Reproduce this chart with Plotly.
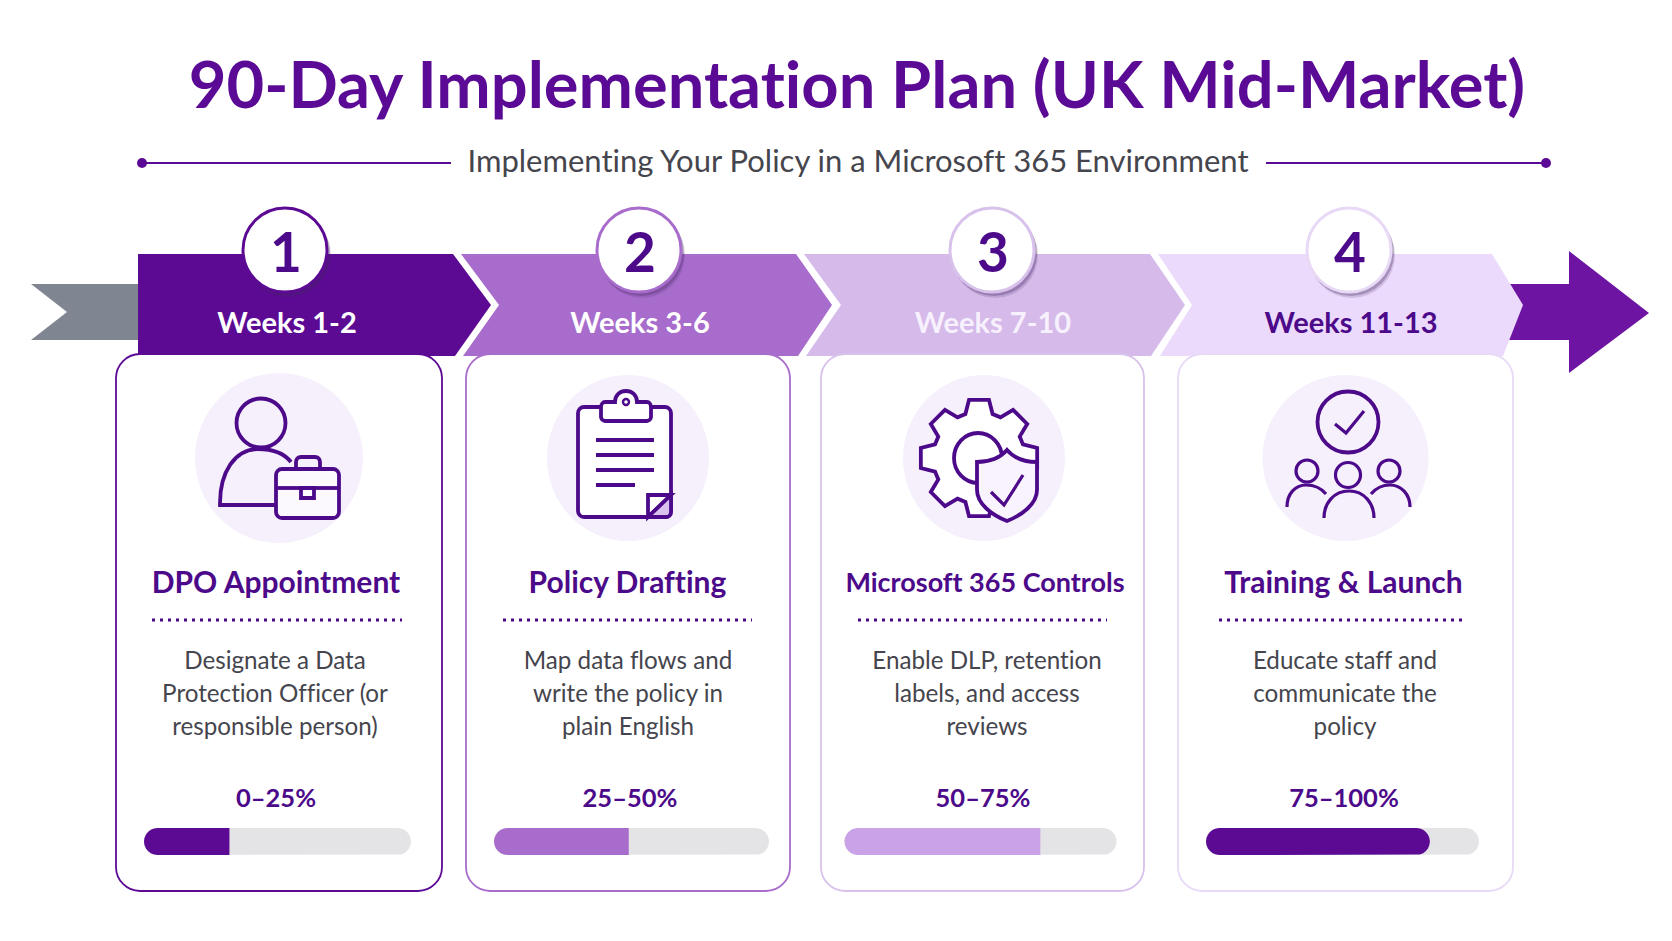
import math
import plotly.graph_objects as go

# ---------- content ----------
TITLE = "90-Day Implementation Plan (UK Mid-Market)"
SUBTITLE = "Implementing Your Policy in a Microsoft 365 Environment"
step_numbers = ["1", "2", "3", "4"]
week_labels = ["Weeks 1-2", "Weeks 3-6", "Weeks 7-10", "Weeks 11-13"]
card_titles = ["DPO Appointment", "Policy Drafting", "Microsoft 365 Controls", "Training & Launch"]
card_text = [
    ["Designate a Data", "Protection Officer (or", "responsible person)"],
    ["Map data flows and", "write the policy in", "plain English"],
    ["Enable DLP, retention", "labels, and access", "reviews"],
    ["Educate staff and", "communicate the", "policy"],
]
range_labels = ["0\u201325%", "25\u201350%", "50\u201375%", "75\u2013100%"]
# share of each progress track that is filled, as drawn
progress_filled = [32, 49, 72, 82]

# ---------- style ----------
FONT = "Lato"
DARK = "#5A0A94"
INK = "#4C0A8A"
GREY_TXT = "#45454D"
chev_col = ["#5C0A94", "#A86DCC", "#D5BAEA", "#EBDAFB"]
border_col = ["#5C0A94", "#A86DCC", "#D8C2EC", "#E8D9F6"]
fill_col = ["#5C0A94", "#A86DCC", "#C9A2E8", "#5C0A94"]
week_col = ["#FFFFFF", "#FFFFFF", "#F7F0FD", INK]
title_size = [30, 30, 27, 30]
DISC = "#F6EFFC"
SW = 3.8

# ---------- geometry ----------
chevrons = [
    [(138, 254), (453, 254), (491, 305), (455, 356), (138, 356)],
    [(461, 254), (796, 254), (832, 305), (798, 356), (463, 356), (499, 305)],
    [(804, 254), (1150, 254), (1185, 305), (1151, 356), (806, 356), (841, 305)],
    [(1158, 254), (1492, 254), (1523, 305), (1503, 356), (1160, 356), (1192, 305)],
]
circle_x = [285, 639, 992, 1349]
week_x = [287, 640, 993, 1351]
cards = [(116, 442), (466, 790), (821, 1144), (1178, 1513)]
discs = [(279, 84, 85), (628, 81, 83), (984, 81, 83), (1345.5, 83, 83)]
title_x = [276, 627.5, 985, 1343.5]
dots = [(152, 402), (503, 752), (858, 1107), (1219, 1467)]
text_x = [275, 628, 987, 1345]
range_x = [276, 630, 983, 1344]
tracks = [(144, 411), (494, 769), (844.5, 1116.5), (1206, 1479)]

shapes = []


def path(d, fill="rgba(0,0,0,0)", line=INK, width=SW):
    shapes.append(dict(type="path", path=d, xref="x", yref="y", layer="below",
                       fillcolor=fill, line=dict(color=line or "rgba(0,0,0,0)", width=width)))


def poly(pts, fill, line=None, width=0):
    d = "M" + " L".join(f"{x},{y}" for x, y in pts) + " Z"
    path(d, fill=fill, line=line, width=width)


def ell(cx, cy, rx, ry, fill="rgba(0,0,0,0)", line=None, width=0):
    shapes.append(dict(type="circle", xref="x", yref="y", layer="below",
                       x0=cx - rx, x1=cx + rx, y0=cy - ry, y1=cy + ry, fillcolor=fill,
                       line=dict(color=line or "rgba(0,0,0,0)", width=width)))


def seg(x0, y0, x1, y1, col=INK, width=SW, dash=None):
    shapes.append(dict(type="line", xref="x", yref="y", layer="below", x0=x0, x1=x1, y0=y0, y1=y1,
                       line=dict(color=col, width=width, dash=dash or "solid")))


def rr(x0, y0, x1, y1, r):
    k = r * 0.45
    return (f"M{x0+r},{y0} L{x1-r},{y0} C{x1-k},{y0} {x1},{y0+k} {x1},{y0+r} "
            f"L{x1},{y1-r} C{x1},{y1-k} {x1-k},{y1} {x1-r},{y1} "
            f"L{x0+r},{y1} C{x0+k},{y1} {x0},{y1-k} {x0},{y1-r} "
            f"L{x0},{y0+r} C{x0},{y0+k} {x0+k},{y0} {x0+r},{y0} Z")


# header rules
for a, b, dot in ((138, 451, 142), (1266, 1546, 1546)):
    seg(a, 163, b, 163, DARK, 2.2)
    ell(dot, 163, 5, 5, DARK)

# ribbon ends
poly([(31, 284), (139, 284), (139, 340), (31, 340), (67, 312)], "#7F8591")
poly([(1500, 284), (1569, 284), (1569, 251), (1649, 313), (1569, 373), (1569, 340), (1500, 340)], "#6E14A2")

# chevrons
for pts, c in zip(chevrons, chev_col):
    poly(pts, c)

# cards, discs, dotted separators
for i, ((x0, x1), c) in enumerate(zip(cards, border_col)):
    path(rr(x0, 354, x1, 891, 24), fill="#FFFFFF", line=c, width=1.8)
    cx, rx, ry = discs[i]
    ell(cx, 458, rx, ry, DISC)
    seg(dots[i][0], 620, dots[i][1], 620, INK, 3, "3px,5px")

# number circles
for x, c in zip(circle_x, border_col):
    ell(x + 3, 255, 43, 43, "rgba(70,40,100,0.16)")
    ell(x + 2, 253, 43, 43, "rgba(70,40,100,0.30)")
    ell(x, 250, 42, 42, "#FFFFFF", c, 3)

# icon 1: person and briefcase
ell(261, 423, 24.5, 24.5, "rgba(0,0,0,0)", INK, SW)
path("M291,462 C283,452 272,449 258,449 C235,449 220,472 220,503 L220,505 L275,505")
path(rr(276, 469, 339, 518, 6), fill="#FBF8FE")
path("M296,469 L296,462 C296,459 298,457 301,457 L315,457 C318,457 320,459 320,462 L320,469")
seg(276, 488, 301, 488)
seg(314, 488, 339, 488)
path("M301,488 L314,488 L314,498 L301,498 Z")

# icon 2: clipboard
path(rr(578, 407, 671, 517, 6), fill="#FFFFFF")
path("M601,407 L601,417 C601,419 603,421 605,421 L647,421 C649,421 651,419 651,417 L651,407 "
     "C651,404 649,402 647,402 L637,402 C637,395 632,391 626,391 C620,391 615,395 615,402 "
     "L605,402 C603,402 601,404 601,407 Z", fill="#FFFFFF")
ell(626, 402, 3, 3, "#FFFFFF", INK, 2.4)
for y, x1 in ((440, 654), (455, 654), (470, 654), (485, 635)):
    seg(596, y, x1, y)
path("M671,495 L648,495 L648,517 Z", fill="#FFFFFF")
path("M671,495 L671,512 C671,515 669,517 666,517 L648,517 Z", fill="#D9C3EE")

# icon 3: gear and shield
gear = []
teeth = 8
for k in range(teeth):
    a = 2 * math.pi * k / teeth - math.pi / 2
    for da, r in ((-0.30, 46), (-0.17, 59), (0.17, 59), (0.30, 46)):
        gear.append((979 + r * math.cos(a + da), 458 + r * math.sin(a + da)))
poly(gear, "#FFFFFF", INK, SW)
ell(978, 458, 24, 25, "#FFFFFF", INK, SW)
path("M1007,450 C1000,458 990,462 977,462 L977,490 C977,504 992,515 1007,521 "
     "C1022,515 1037,504 1037,490 L1037,462 C1024,462 1014,458 1007,450 Z", fill="#F9F3FD")
path("M991,492 L1004,505 L1023,475", width=3.2)

# icon 4: team with check
ell(1348, 422, 30.5, 30.5, "rgba(0,0,0,0)", INK, SW)
path("M1335,424 L1346,433 L1364,411", width=3.2)
for hx, hy, r in ((1307, 471, 11), (1389, 471, 11), (1348, 475, 12.5)):
    ell(hx, hy, r, r, "rgba(0,0,0,0)", INK, 3.2)
path("M1287,507 C1287,494 1295,485 1306,485 C1315,485 1321,488 1326,494", width=3.2)
path("M1371,494 C1376,488 1382,485 1390,485 C1401,485 1410,494 1410,507", width=3.2)
path("M1324,518 C1324,503 1334,491 1349,491 C1364,491 1374,503 1374,518", width=3.2)

# ---------- traces ----------
fig = go.Figure()


def progress_outline(x0, x1, y0, y1, round_right):
    """Closed outline of a progress bar, rounded on the left and optionally on the right."""
    r = (y1 - y0) / 2
    cy = (y0 + y1) / 2
    xs, ys = [], []
    for t in range(90, 271, 15):
        xs.append(x0 + r + r * math.cos(math.radians(t)))
        ys.append(cy - r * math.sin(math.radians(t)))
    if round_right:
        for t in range(-90, 91, 15):
            xs.append(x1 - r + r * math.cos(math.radians(t)))
            ys.append(cy - r * math.sin(math.radians(t)))
    else:
        xs += [x1, x1]
        ys += [y1, y0]
    return xs + xs[:1], ys + ys[:1]


for i, ((x0, x1), pct, col) in enumerate(zip(tracks, progress_filled, fill_col)):
    xs, ys = progress_outline(x0, x1, 828, 855, True)
    fig.add_trace(go.Scatter(x=xs, y=ys, fill="toself", fillcolor="#E4E4E6", mode="lines",
                             line=dict(width=0), hoverinfo="skip", showlegend=False))
    end = x0 + (x1 - x0) * pct / 100
    xs, ys = progress_outline(x0, end, 828, 855, i == 3)
    fig.add_trace(go.Scatter(x=xs, y=ys, fill="toself", fillcolor=col, mode="lines",
                             line=dict(width=0), hoverinfo="skip", showlegend=False))


def text(x, y, s, size, color, weight=400):
    fig.add_trace(go.Scatter(x=[x], y=[y], mode="text", text=[s], textposition="middle center",
                             textfont=dict(family=FONT, size=size, color=color, weight=weight),
                             hoverinfo="skip", showlegend=False))


text(857, 92, TITLE, 65, DARK, 700)
text(858, 164, SUBTITLE, 31, GREY_TXT)
for i in range(4):
    text(circle_x[i] + 1, 258, step_numbers[i], 55, INK, 700)
    text(week_x[i], 326, week_labels[i], 29, week_col[i], 700)
    text(title_x[i], 585, card_titles[i], title_size[i], INK, 700)
    for line, y in zip(card_text[i], (663, 696, 729)):
        text(text_x[i], y, line, 24.2, GREY_TXT)
    text(range_x[i], 801, range_labels[i], 25.5, INK, 700)

fig.update_layout(
    width=1672, height=941, margin=dict(l=0, r=0, t=0, b=0),
    paper_bgcolor="#FFFFFF", plot_bgcolor="#FFFFFF", shapes=shapes,
    xaxis=dict(range=[0, 1672], visible=False, fixedrange=True),
    yaxis=dict(range=[941, 0], visible=False, fixedrange=True),
    showlegend=False,
)
fig.write_html(
    "out.html", config={"displayModeBar": False},
    post_script=("document.body.style.margin='0';document.body.style.overflow='hidden';"
                 "var s=document.createElement('style');"
                 "s.textContent='text{font-variant-ligatures:none !important;"
                 "font-feature-settings:\"liga\" 0,\"clig\" 0 !important;}';"
                 "document.head.appendChild(s);"),
)
